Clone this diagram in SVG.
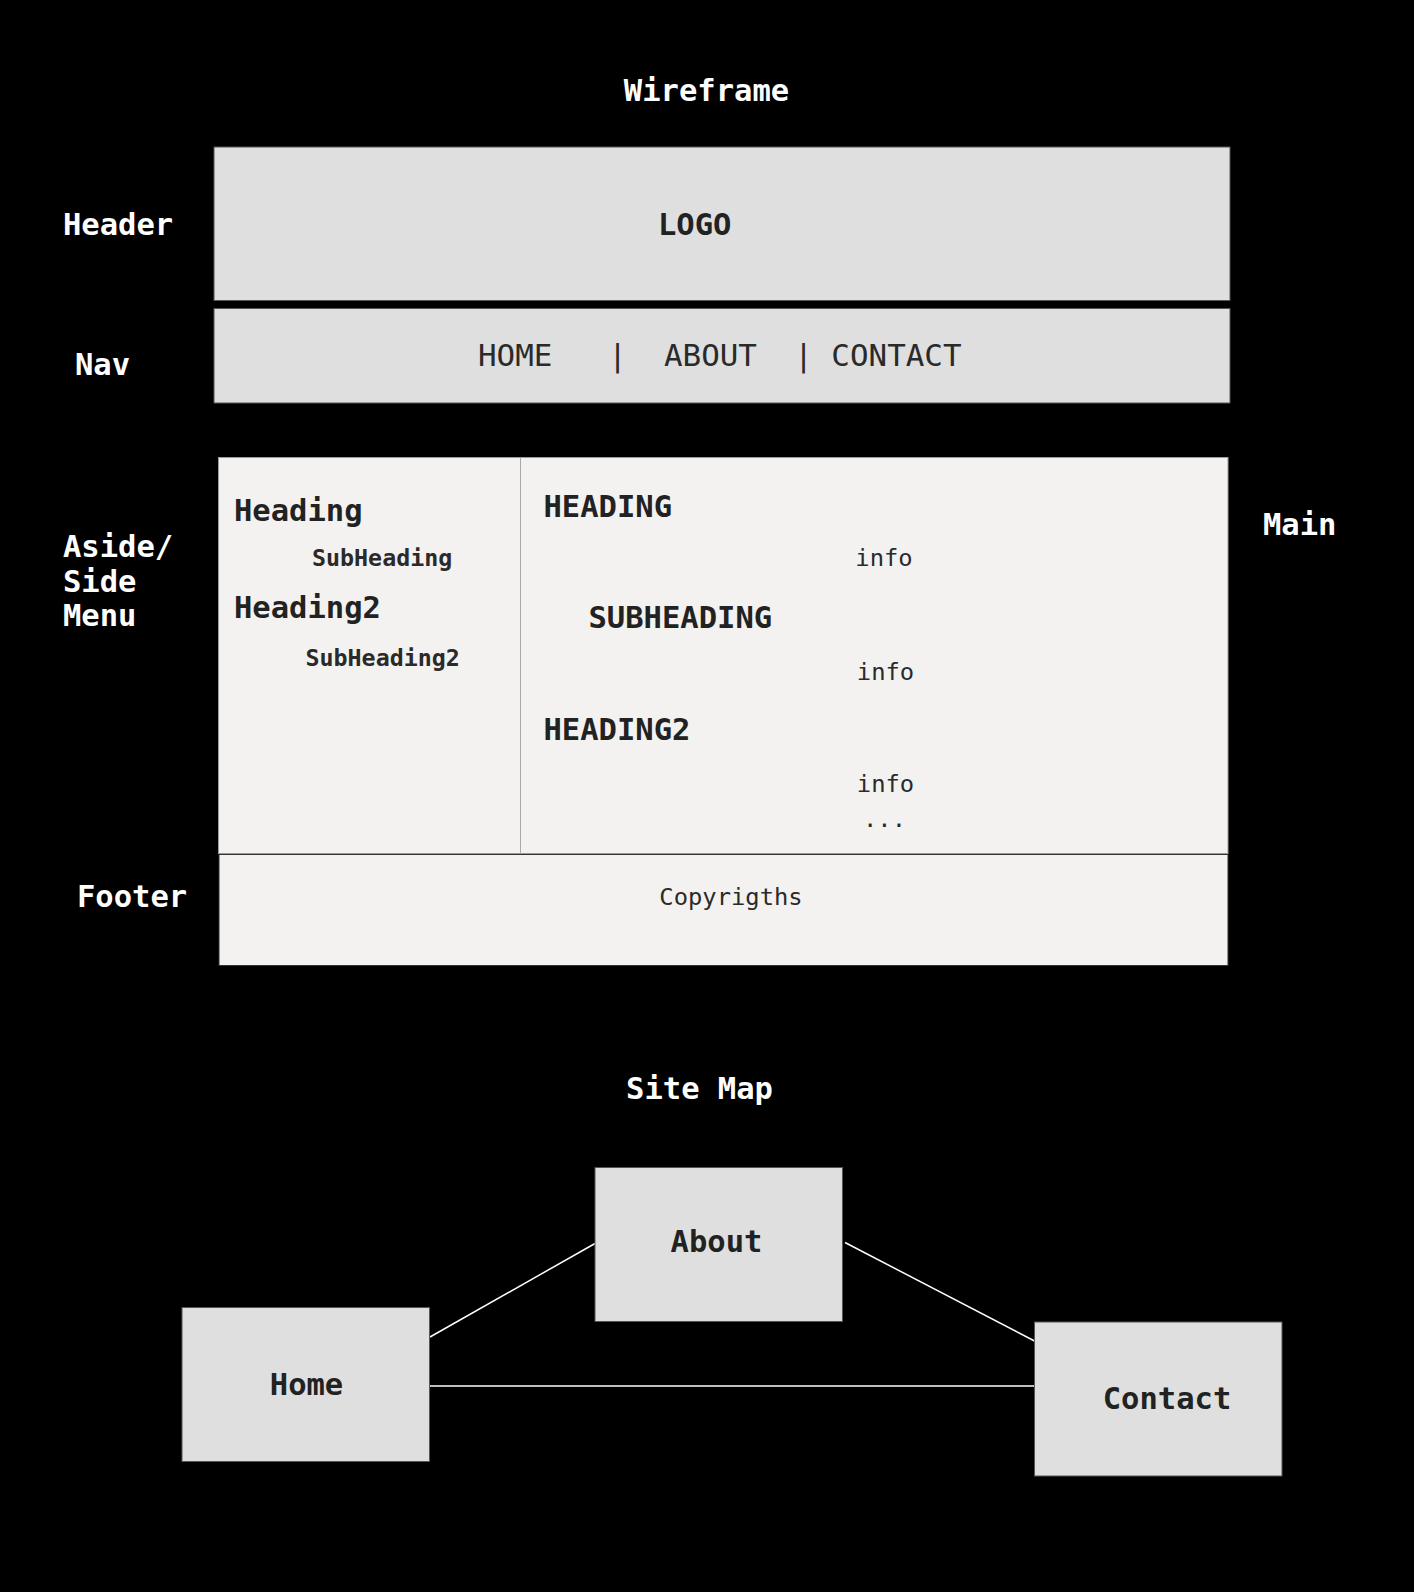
<svg xmlns="http://www.w3.org/2000/svg" width="1414" height="1592" viewBox="0 0 1414 1592">
<style>
text{font-family:"DejaVu Sans Mono","Liberation Mono",monospace;}
.t{fill:#ffffff;font-weight:bold;font-size:30.5px;}
.big{fill:#222222;font-weight:bold;font-size:30.5px;}
.nav{fill:#2a2a2a;font-size:30.9px;}
.sub{fill:#2a2a2a;font-weight:bold;font-size:23.3px;}
.info{fill:#2a2a2a;font-size:23.8px;}
.gray{fill:#dfdfdf;stroke:#555555;stroke-width:1;}
.light{fill:#f3f2f0;stroke:#999999;stroke-width:1;}
.conn{stroke:#ffffff;stroke-width:1.5;fill:none;}
</style>
<rect x="0" y="0" width="1414" height="1592" fill="#000000"/>
<g id="labels">
<text class="t" x="706.5" y="101" text-anchor="middle">Wireframe</text>
<text class="t" x="63" y="234.5">Header</text>
<text class="t" x="75" y="375">Nav</text>
<text class="t" x="63" y="557">Aside/</text>
<text class="t" x="63" y="591.5">Side</text>
<text class="t" x="63" y="626">Menu</text>
<text class="t" x="1263" y="535">Main</text>
<text class="t" x="77" y="907">Footer</text>
<text class="t" x="699.5" y="1099" text-anchor="middle">Site Map</text>
</g>
<g id="header">
<rect class="gray" x="214" y="147" width="1016" height="153.5"/>
<text class="big" x="658" y="234.5">LOGO</text>
</g>
<g id="nav">
<rect class="gray" x="214" y="308.5" width="1016" height="94.5"/>
<text class="nav" x="478" y="365.5" xml:space="preserve">HOME   |  ABOUT  | CONTACT</text>
</g>
<g id="main">
<rect class="light" x="218.5" y="457.5" width="1009.5" height="396"/>
<text class="big" x="543.5" y="516.5">HEADING</text>
<text class="info" x="884" y="565.5" text-anchor="middle">info</text>
<text class="big" x="588.5" y="627.5">SUBHEADING</text>
<text class="info" x="885.5" y="680" text-anchor="middle">info</text>
<text class="big" x="543.5" y="739.5">HEADING2</text>
<text class="info" x="885.5" y="792" text-anchor="middle">info</text>
<text class="info" x="884.5" y="827" text-anchor="middle">...</text>
</g>
<g id="aside">
<line x1="520.5" y1="457.5" x2="520.5" y2="853.5" stroke="#aaaaaa" stroke-width="1"/>
<text class="big" x="234" y="520.5">Heading</text>
<text class="sub" x="312" y="565.5">SubHeading</text>
<text class="big" x="234" y="618">Heading2</text>
<text class="sub" x="305.5" y="666">SubHeading2</text>
</g>
<g id="footer">
<rect x="219" y="854.5" width="1009" height="111" fill="#f3f2f0" stroke="#333333" stroke-width="1"/>
<text class="info" x="731" y="905" text-anchor="middle">Copyrigths</text>
</g>
<g id="connectors">
<line class="conn" x1="430" y1="1337" x2="595" y2="1243.5"/>
<line class="conn" x1="845" y1="1242.5" x2="1034.5" y2="1341"/>
<line class="conn" x1="430" y1="1386" x2="1034.5" y2="1386" stroke-width="2"/>
</g>
<g id="about">
<rect class="gray" x="595" y="1167.5" width="247.5" height="154"/>
<text class="big" x="716.5" y="1251.5" text-anchor="middle">About</text>
</g>
<g id="home">
<rect class="gray" x="182" y="1307.5" width="247.5" height="154"/>
<text class="big" x="306.5" y="1394.5" text-anchor="middle">Home</text>
</g>
<g id="contact">
<rect class="gray" x="1034.5" y="1322" width="247.5" height="154"/>
<text class="big" x="1167" y="1408.5" text-anchor="middle">Contact</text>
</g>
</svg>
